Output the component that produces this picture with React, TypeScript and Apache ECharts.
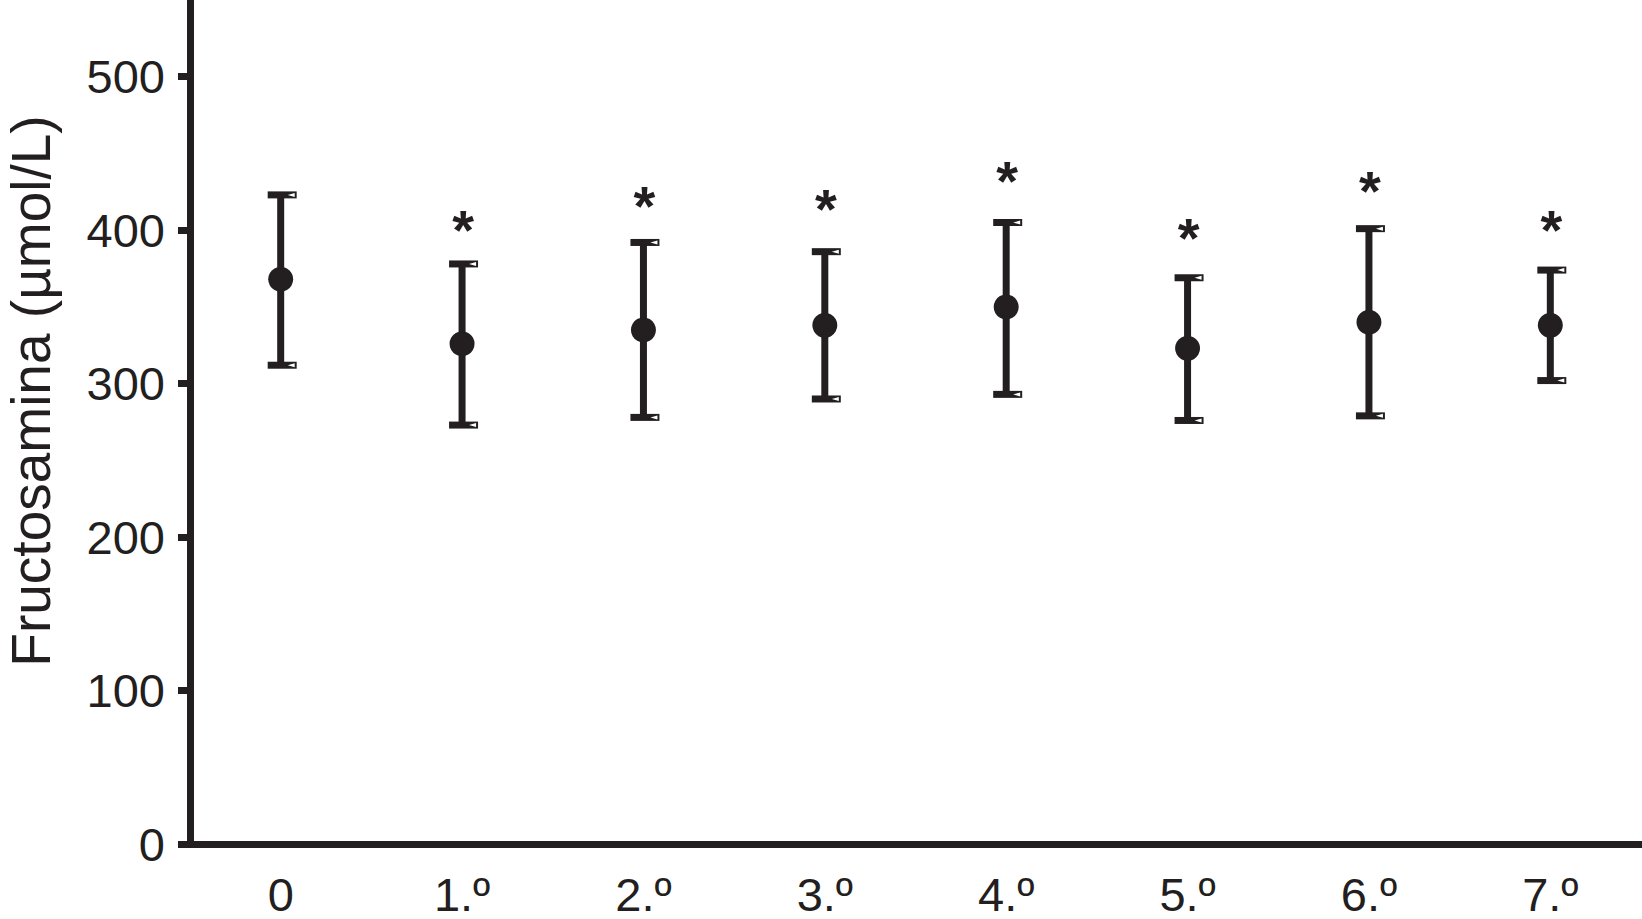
import React, { useEffect, useRef } from "react";
import * as echarts from "echarts";

const categories = ["0", "1.º", "2.º", "3.º", "4.º", "5.º", "6.º", "7.º"];
const means = [368, 326, 335, 338, 350, 323, 340, 338];
const upper = [423, 378, 392, 386, 405, 369, 401, 374];
const lower = [312, 273, 278, 290, 293, 276, 279, 302];
const sigMarks = ["", "*", "*", "*", "*", "*", "*", "*"];
const sigLevels = [null, 408, 424, 422, 440, 403, 434, 408];
const yTicks = [0, 100, 200, 300, 400, 500];
const yName = "Fructosamina (µmol/L)";

const INK = "#231f20";
const FONT = "'Liberation Sans', Arial, Helvetica, sans-serif";

export default function App() {
  const ref = useRef<HTMLDivElement>(null);
  useEffect(() => {
    if (!ref.current) return;
    const chart = echarts.init(ref.current, undefined, { renderer: "svg" });
    const errData = categories.map((_, i) => [i, upper[i], lower[i]]);
    const sigData = categories
      .map((_, i) => [i, sigLevels[i], sigMarks[i]])
      .filter((d) => d[1] !== null && d[2] !== "");
    chart.setOption({
      animation: false,
      backgroundColor: "#ffffff",
      grid: { left: 190, right: 1, top: 0, bottom: 75, containLabel: false },
      xAxis: {
        type: "category",
        data: categories,
        boundaryGap: true,
        axisLine: { show: true, lineStyle: { color: INK, width: 7 } },
        axisTick: { show: false },
        axisLabel: { color: INK, fontSize: 47, lineHeight: 36, fontFamily: FONT, margin: 32, interval: 0 },
        splitLine: { show: false },
      },
      yAxis: {
        type: "value",
        min: 0,
        max: 550,
        interval: 100,
        axisLine: { show: true, lineStyle: { color: INK, width: 7 } },
        axisTick: { show: true, length: 12, lineStyle: { color: INK, width: 7 }, customValues: yTicks },
        axisLabel: { color: INK, fontSize: 47, fontFamily: FONT, margin: 25, customValues: yTicks },
        splitLine: { show: false },
      },
      graphic: [
        {
          type: "text",
          x: 31,
          y: 391,
          rotation: Math.PI / 2,
          style: {
            text: yName,
            fontSize: 55,
            fontFamily: FONT,
            fill: INK,
            textAlign: "center",
            textVerticalAlign: "middle",
            align: "center",
            verticalAlign: "middle",
          },
        },
      ],
      series: [
        {
          type: "custom",
          data: errData,
          encode: { x: 0, y: [1, 2] },
          renderItem: (params: any, api: any) => {
            const i = api.value(0);
            const top = api.coord([i, api.value(1)]);
            const bot = api.coord([i, api.value(2)]);
            const x = top[0];
            const cap = (y: number) => [
              { type: "rect", shape: { x: x - 13, y: y - 3.5, width: 29, height: 7 }, style: { fill: INK } },
              {
                type: "polygon",
                shape: { points: [[x + 7, y], [x + 14, y - 2], [x + 14, y + 2]] },
                style: { fill: "#ffffff" },
              },
            ];
            return {
              type: "group",
              children: [
                { type: "rect", shape: { x: x - 3.5, y: top[1], width: 7, height: bot[1] - top[1] }, style: { fill: INK } },
                ...cap(top[1]),
                ...cap(bot[1]),
              ],
            };
          },
          z: 2,
        },
        {
          type: "scatter",
          data: means,
          symbol: "circle",
          symbolSize: 25,
          itemStyle: { color: INK, opacity: 1 },
          z: 3,
        },
        {
          type: "custom",
          data: sigData,
          encode: { x: 0, y: 1 },
          renderItem: (params: any, api: any) => {
            const p = api.coord([api.value(0), api.value(1)]);
            const idx = params.dataIndexInside;
            return {
              type: "text",
              x: p[0] + 1,
              y: p[1] + 12,
              style: {
                text: sigData[idx][2],
                fontSize: 56,
                fontWeight: "bold",
                fontFamily: FONT,
                fill: INK,
                textAlign: "center",
                textVerticalAlign: "middle",
                align: "center",
                verticalAlign: "middle",
              },
            };
          },
          z: 4,
        },
      ],
    });
    return () => chart.dispose();
  }, []);
  return (
    <div
      ref={ref}
      style={{ position: "absolute", left: 0, top: 0, width: 1642, height: 919, background: "#fff" }}
    />
  );
}
